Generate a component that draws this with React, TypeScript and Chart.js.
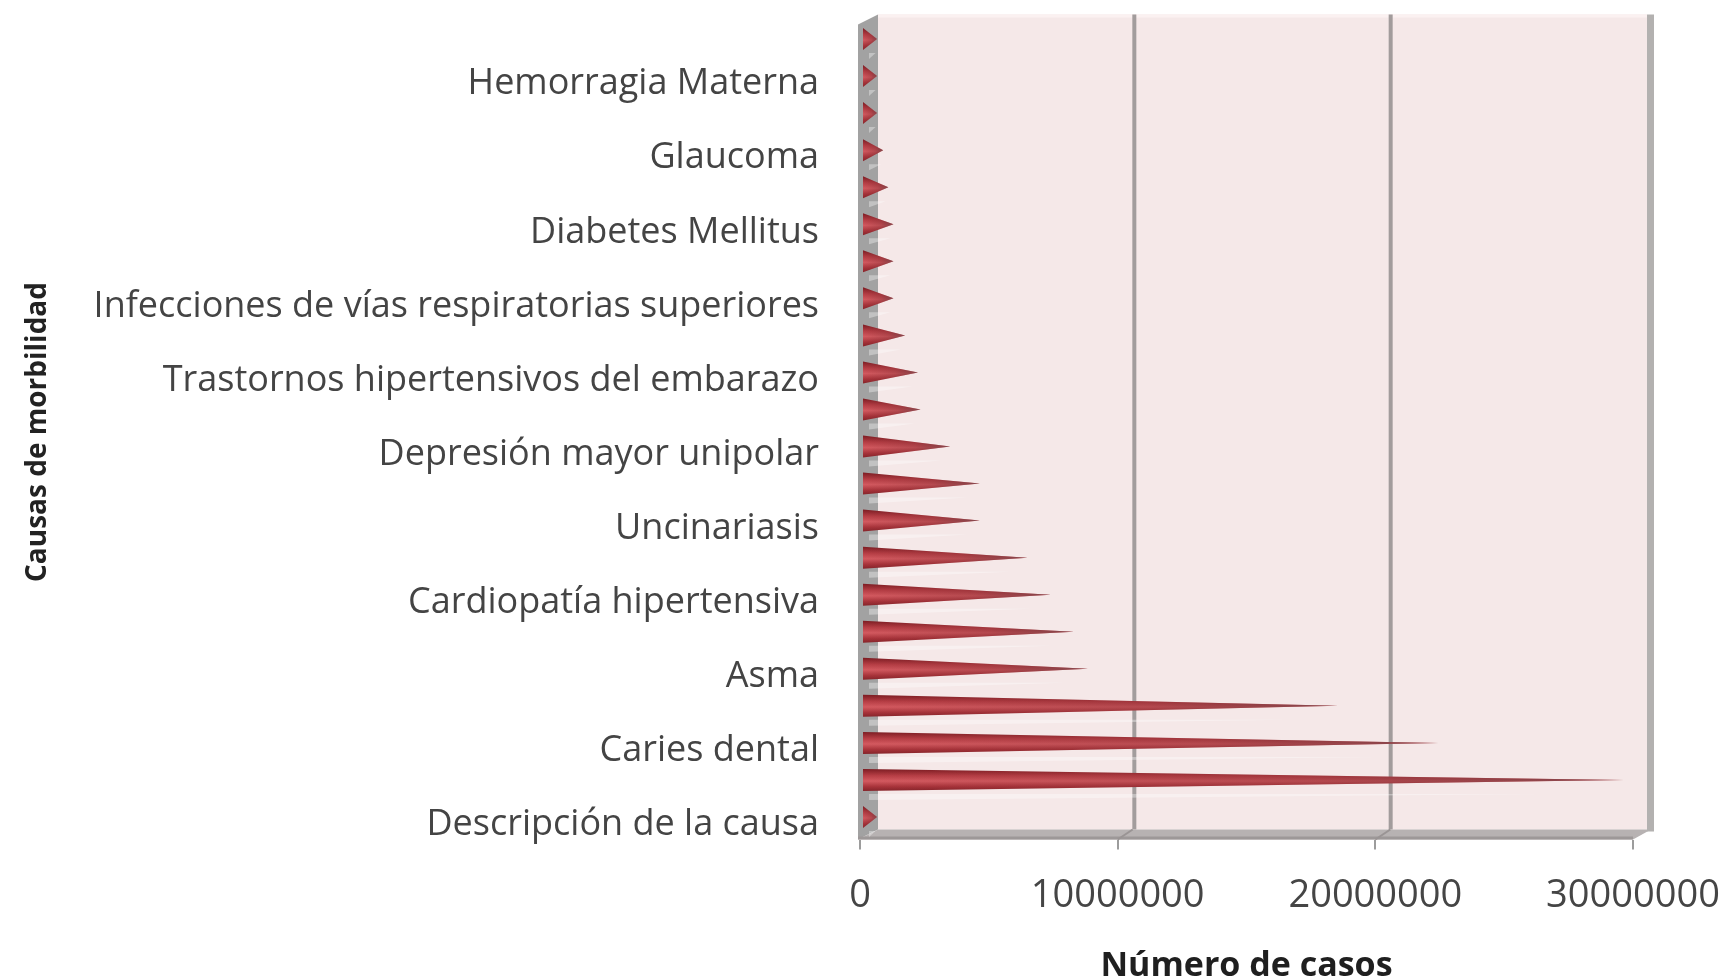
import React, { useEffect, useRef } from "react";
import { Chart, registerables } from "chart.js";

Chart.register(...registerables);

// Categories from top to bottom (only every second one carries a visible label)
const categories: string[] = [
  "",
  "Hemorragia Materna",
  "",
  "Glaucoma",
  "",
  "Diabetes Mellitus",
  "",
  "Infecciones de vías respiratorias superiores",
  "",
  "Trastornos hipertensivos del embarazo",
  "",
  "Depresión mayor unipolar",
  "",
  "Uncinariasis",
  "",
  "Cardiopatía hipertensiva",
  "",
  "Asma",
  "",
  "Caries dental",
  "",
  "Descripción de la causa",
];

// Número de casos
const casos: number[] = [
  300000, 300000, 300000, 550000, 750000, 950000, 950000, 950000, 1400000,
  1900000, 2000000, 3150000, 4300000, 4300000, 6150000, 7050000, 7950000,
  8500000, 18200000, 22100000, 29300000, 150000,
];

const xTicks: number[] = [0, 10000000, 20000000, 30000000];

const xTitle = "Número de casos";
const yTitle = "Causas de morbilidad";

const FONT = "'Open Sans', 'Liberation Sans', sans-serif";
const CANVAS_W = 1760;
const CANVAS_H = 1000;
const AREA_LEFT = 860;
const AREA_RIGHT = 1633;
const AREA_TOP = 24.5;
const AREA_BOTTOM = 839.5;

const DEPTH_X = 18;
const DEPTH_Y = -10;

const wallsPlugin = {
  id: "walls3d",
  beforeDatasetsDraw(chart: any) {
    const { ctx, chartArea: ca, scales } = chart;
    const xs = scales.x;
    ctx.save();
    const bl = ca.left + DEPTH_X;
    const br = ca.right + 14;
    const bt = ca.top + DEPTH_Y;
    const bb = ca.bottom + DEPTH_Y;
    // back wall
    ctx.fillStyle = "#f5e8e8";
    ctx.fillRect(bl, bt, br - bl, bb - bt);
    ctx.fillStyle = "#fbf1f1";
    ctx.fillRect(bl, bt, br - bl, 3);
    // gridlines on back wall
    for (const v of xTicks.slice(1, -1)) {
      const xf = xs.getPixelForValue(v);
      const t = (v - xTicks[0]) / (xTicks[xTicks.length - 1] - xTicks[0]);
      const off = DEPTH_X + (14 - DEPTH_X) * t;
      ctx.strokeStyle = "#a29c9c";
      ctx.lineWidth = 4;
      ctx.beginPath();
      ctx.moveTo(xf + off, bt);
      ctx.lineTo(xf + off, bb);
      ctx.stroke();
    }
    // left side wall
    ctx.fillStyle = "#a2a2a2";
    ctx.beginPath();
    ctx.moveTo(ca.left - 2, ca.top);
    ctx.lineTo(bl, bt);
    ctx.lineTo(bl, bb);
    ctx.lineTo(ca.left - 2, ca.bottom);
    ctx.closePath();
    ctx.fill();
    // floor
    ctx.fillStyle = "#b7b2b2";
    ctx.beginPath();
    ctx.moveTo(ca.left - 2, ca.bottom);
    ctx.lineTo(bl, bb);
    ctx.lineTo(br + 4, bb);
    ctx.lineTo(ca.right, ca.bottom);
    ctx.closePath();
    ctx.fill();
    ctx.fillStyle = "#9d9898";
    ctx.fillRect(ca.left - 2, ca.bottom - 3, ca.right - ca.left + 2, 3);
    for (const v of xTicks.slice(1, -1)) {
      const xf = xs.getPixelForValue(v);
      ctx.strokeStyle = "#9a9494";
      ctx.lineWidth = 2;
      ctx.beginPath();
      ctx.moveTo(xf, ca.bottom);
      ctx.lineTo(xf + 15, bb);
      ctx.stroke();
    }
    // right wall edge
    ctx.fillStyle = "#b3b1b0";
    ctx.fillRect(br, bt, 7, bb - bt + 2);
    ctx.restore();
  },
  afterDatasetsDraw(chart: any) {
    const { ctx } = chart;
    const meta = chart.getDatasetMeta(0);
    ctx.save();
    meta.data.forEach((el: any) => {
      const p = el.getProps(["x", "y", "base", "height"], true);
      const h = 22;
      const cy = p.y - 4;
      const x0 = p.base + 2;
      const x1 = Math.max(p.x + 9, x0 + 14);
      const top = cy - h / 2;
      const bot = cy + h / 2;
      const grad = ctx.createLinearGradient(0, top, 0, bot);
      grad.addColorStop(0, "#7c1c22");
      grad.addColorStop(0.3, "#b73e45");
      grad.addColorStop(0.55, "#d45a60");
      grad.addColorStop(0.8, "#a9343b");
      grad.addColorStop(1, "#86242a");
      ctx.fillStyle = grad;
      ctx.beginPath();
      ctx.moveTo(x0, top);
      ctx.lineTo(x1, cy);
      ctx.lineTo(x0, bot);
      ctx.closePath();
      ctx.fill();
      const hg = ctx.createLinearGradient(x0, 0, x1, 0);
      hg.addColorStop(0, "rgba(90,25,30,0)");
      hg.addColorStop(0.6, "rgba(90,25,30,0.25)");
      hg.addColorStop(1, "rgba(110,70,75,0.75)");
      ctx.fillStyle = hg;
      ctx.fill();
      ctx.fillStyle = "rgba(255,255,255,0.35)";
      ctx.beginPath();
      ctx.moveTo(x0 + 6, bot + 3);
      ctx.lineTo(x0 + (x1 - x0) * 0.9, bot + 3);
      ctx.lineTo(x0 + 6, bot + 9);
      ctx.closePath();
      ctx.fill();
    });
    ctx.restore();
  },
};

export default function App() {
  const canvasRef = useRef<HTMLCanvasElement | null>(null);

  useEffect(() => {
    if (!canvasRef.current) return;
    const chart = new Chart(canvasRef.current, {
      type: "bar",
      data: {
        labels: categories,
        datasets: [
          {
            label: xTitle,
            data: casos,
            backgroundColor: "rgba(0,0,0,0)",
            borderWidth: 0,
            barThickness: 22,
          },
        ],
      },
      options: {
        indexAxis: "y",
        animation: false,
        responsive: false,
        maintainAspectRatio: false,
        layout: {
          padding: { left: 12, top: AREA_TOP, right: CANVAS_W - AREA_RIGHT, bottom: 0 },
        },
        plugins: {
          legend: { display: false },
          tooltip: { enabled: false },
        },
        scales: {
          x: {
            type: "linear",
            min: xTicks[0],
            max: xTicks[xTicks.length - 1],
            afterBuildTicks: (s: any) => {
              s.ticks = xTicks.map((v) => ({ value: v }));
            },
            afterFit: (s: any) => {
              s.height = CANVAS_H - AREA_BOTTOM;
              s.paddingLeft = 0;
              s.paddingRight = 0;
            },
            grid: {
              display: true,
              drawOnChartArea: false,
              drawTicks: true,
              tickLength: 10,
              color: "#9c9c9c",
              lineWidth: 2,
            },
            border: { display: false },
            ticks: {
              padding: 24,
              color: "#454545",
              font: { family: FONT, size: 38 },
              maxRotation: 0,
              autoSkip: false,
              callback: (v: any) => String(v),
            },
            title: {
              display: true,
              text: xTitle,
              color: "#1f1f1f",
              font: { family: FONT, size: 34, weight: "bold" },
              padding: { top: 0, bottom: 13 },
            },
          },
          y: {
            type: "category",
            afterFit: (s: any) => {
              s.width = AREA_LEFT - 12;
              s.paddingTop = 0;
              s.paddingBottom = 0;
            },
            grid: { display: false, drawTicks: false },
            border: { display: false },
            ticks: {
              padding: 41,
              labelOffset: 4,
              autoSkip: false,
              color: "#444444",
              font: { family: FONT, size: 36 },
            },
            title: {
              display: true,
              text: yTitle,
              color: "#222222",
              font: { family: FONT, size: 28, weight: "bold" },
              padding: { top: 9, bottom: 0 },
            },
          },
        },
      },
      plugins: [wallsPlugin],
    });
    return () => chart.destroy();
  }, []);

  return (
    <div
      style={{
        position: "fixed",
        left: 0,
        top: 0,
        width: 1722,
        height: 976,
        overflow: "hidden",
        background: "#ffffff",
      }}
    >
      <canvas
        ref={canvasRef}
        width={CANVAS_W}
        height={CANVAS_H}
        style={{ width: CANVAS_W, height: CANVAS_H, display: "block" }}
      />
    </div>
  );
}
